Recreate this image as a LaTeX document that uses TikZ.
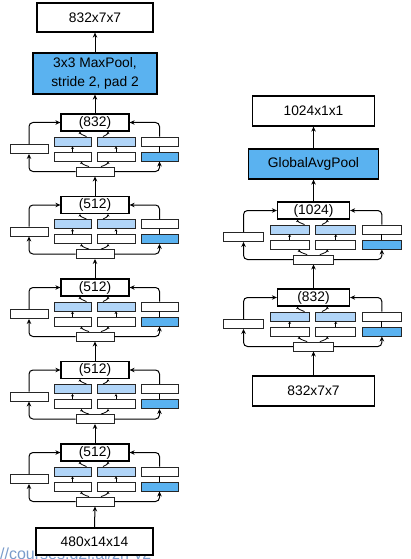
\documentclass[tikz,border=0pt]{standalone}
\usepackage{fontspec}
\setmainfont{Liberation Sans}
\usetikzlibrary{arrows.meta,calc}
\definecolor{lblue}{HTML}{B1D5F8}
\definecolor{dblue}{HTML}{5AB2F0}
\definecolor{wmblue}{HTML}{7A9CCB}
\tikzset{
  box/.style={draw=black, line width=1.2pt, fill=white, inner sep=0pt, font=\fontsize{13.8}{19}\selectfont, align=center},
  sbox/.style={draw=black!85, line width=0.9pt, fill=white, inner sep=0pt, minimum height=9pt},
  arr/.style={line width=1pt, -{Stealth[length=5pt,width=4.5pt]}},
  tinyarr/.style={line width=0.8pt, -{Stealth[length=2.5pt,width=3pt]}},
  link/.style={line width=0.8pt},
}
% prefix, cx, T, s, label
\newcommand\IncBlock[5]{%
  \node[box, minimum width=#4*68pt, minimum height=17pt] (#1o) at (#2,{#3+8.5}) {#5};
  \node[sbox, fill=lblue, minimum width=#4*37pt] (#1a1) at ({#2-22.5*#4},{#3+27.5}) {};
  \node[sbox, fill=lblue, minimum width=#4*38pt] (#1b1) at ({#2+21*#4},{#3+27.5}) {};
  \node[sbox, minimum width=#4*37pt] (#1c1) at ({#2+64.5*#4},{#3+27.5}) {};
  \node[sbox, minimum width=#4*37pt] (#1a2) at ({#2-22.5*#4},{#3+42.5}) {};
  \node[sbox, minimum width=#4*38pt] (#1b2) at ({#2+21*#4},{#3+42.5}) {};
  \node[sbox, fill=dblue, minimum width=#4*37pt] (#1c2) at ({#2+64.5*#4},{#3+42.5}) {};
  \node[sbox, minimum width=#4*38pt] (#1l) at ({#2-66*#4},{#3+35}) {};
  \node[sbox, minimum width=#4*38pt] (#1i) at (#2,{#3+57.5}) {};
  \draw[arr, rounded corners=4pt] (#1i.west) -| (#1l.south);
  \draw[arr, rounded corners=4pt] (#1l.north) |- (#1o.west);
  \draw[arr, rounded corners=4pt] (#1i.east) -| (#1c2.south);
  \draw[arr, rounded corners=4pt] (#1c1.north) |- (#1o.east);
  \draw[tinyarr] (#1a2.north) -- (#1a1.south);
  \draw[tinyarr] (#1b2.north) -- (#1b1.south);
  \draw[link] (#1c2.north) -- (#1c1.south);
  \draw[tinyarr] ($(#1i.north)+({-6*#4},0)$) .. controls +(-4,-1) and +(0,2) .. ($(#1a2.south)+({9*#4},0)$);
  \draw[tinyarr] ($(#1i.north)+({6*#4},0)$) .. controls +(4,-1) and +(0,2) .. ($(#1b2.south)+({-8*#4},0)$);
  \draw[tinyarr] ($(#1a1.north)+({14*#4},0)$) .. controls +(-3,-1) and +(0,2) .. ($(#1o.south)+({-15*#4},0)$);
  \draw[tinyarr] ($(#1b1.north)+({-13*#4},0)$) .. controls +(3,-1) and +(0,2) .. ($(#1o.south)+({13*#4},0)$);
}
\begin{document}
\begin{tikzpicture}[x=1pt,y=-1pt]
\useasboundingbox (0,0) rectangle (410,559);
% watermark
\node[anchor=base west, inner sep=0pt, text=wmblue, font=\fontsize{16}{16}\selectfont] (wm) at (0,559) {//courses.d2l.ai/zh-v2};
% left column
\node[box, minimum width=116pt, minimum height=29pt] (Ltop) at (95,17.5) {832x7x7};
\node[box, fill=dblue, minimum width=124pt, minimum height=41pt] (Lpool) at (95,73.5) {3x3 MaxPool,\\stride 2, pad 2};
\IncBlock{L1}{95}{114}{1}{(832)}
\IncBlock{L2}{95}{196.5}{1}{(512)}
\IncBlock{L3}{95}{279}{1}{(512)}
\IncBlock{L4}{95}{361.5}{1}{(512)}
\IncBlock{L5}{95}{444}{1}{(512)}
\node[box, minimum width=117pt, minimum height=27pt] (Lbot) at (94.5,541.5) {480x14x14};
\draw[arr] (Lbot.north) -- (L5i.south);
\draw[arr] (L5o.north) -- (L4i.south);
\draw[arr] (L4o.north) -- (L3i.south);
\draw[arr] (L3o.north) -- (L2i.south);
\draw[arr] (L2o.north) -- (L1i.south);
\draw[arr] (L1o.north) -- (Lpool.south);
\draw[arr] (Lpool.north) -- (Ltop.south);
% right column
\node[box, minimum width=122pt, minimum height=30pt] (Rtop) at (313.5,111) {1024x1x1};
\node[box, fill=dblue, minimum width=130pt, minimum height=30pt] (Rgap) at (313.5,164) {GlobalAvgPool};
\IncBlock{R1}{313.5}{202}{1.06}{(1024)}
\IncBlock{R2}{313.5}{289}{1.06}{(832)}
\node[box, minimum width=122pt, minimum height=30pt] (Rbot) at (313.5,391) {832x7x7};
\draw[arr] (Rbot.north) -- (R2i.south);
\draw[arr] (R2o.north) -- (R1i.south);
\draw[arr] (R1o.north) -- (Rgap.south);
\draw[arr] (Rgap.north) -- (Rtop.south);
\end{tikzpicture}
\end{document}
